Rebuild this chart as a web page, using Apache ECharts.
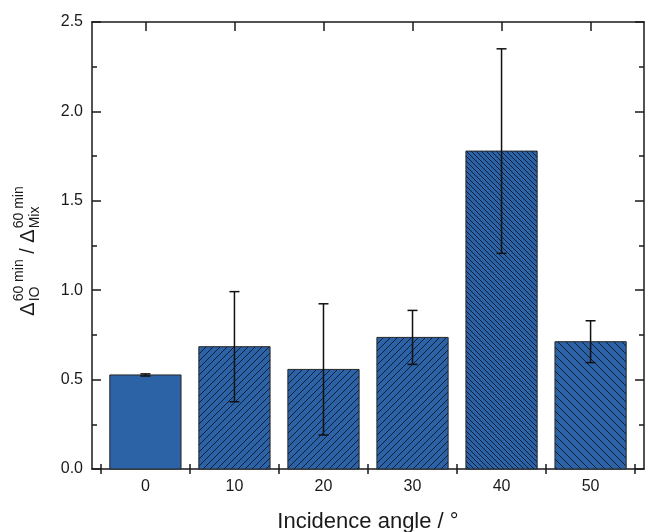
<!DOCTYPE html>
<html>
<head>
<meta charset="utf-8">
<script src="https://cdn.jsdelivr.net/npm/echarts@6/dist/echarts.min.js"></script>
<style>
html,body{margin:0;padding:0;background:#fff;}
#chart{width:646px;height:532px;}
</style>
</head>
<body>
<div id="chart"></div>
<script>
// ---- data ----
const angles = [0, 10, 20, 30, 40, 50];
const ratioValues = [0.526, 0.684, 0.557, 0.736, 1.778, 0.712];
const ratioErrors = [0.006, 0.308, 0.367, 0.151, 0.572, 0.117];
const xTickLabels = ['0', '10', '20', '30', '40', '50'];
const xMinorTicks = [-5, 5, 15, 25, 35, 45, 55];
const yTickLabels = ['0.0', '0.5', '1.0', '1.5', '2.0', '2.5'];
const xTitle = 'Incidence angle / \u00B0';

// ---- styles ----
const FONT = "'Liberation Sans', Arial, Helvetica, sans-serif";
const INK = '#1a1a1a';
const BAR_BLUE = '#2c62a6';
const HATCH_INK = '#0c1d38';
const BAR_HALF_WIDTH = 4;   // in axis units
const CAP_PX = 5;
// hatch per bar: [direction, period px]
const hatchStyles = [null, ['fwd', 7], ['fwd', 7], ['fwd', 7], ['back', 5], ['back', 8]];

function makeHatch(dir, s) {
  const c = document.createElement('canvas');
  c.width = s; c.height = s;
  const g = c.getContext('2d');
  g.fillStyle = BAR_BLUE;
  g.fillRect(0, 0, s, s);
  g.strokeStyle = HATCH_INK;
  g.lineWidth = 1;
  g.beginPath();
  if (dir === 'fwd') {
    for (let k = -1; k <= 1; k++) {
      g.moveTo(k * s - 1, s + 1); g.lineTo(k * s + s + 1, -1);
    }
  } else {
    for (let k = -1; k <= 1; k++) {
      g.moveTo(k * s - 1, -1); g.lineTo(k * s + s + 1, s + 1);
    }
  }
  g.stroke();
  return { image: c, repeat: 'repeat' };
}
const barFills = hatchStyles.map(h => h ? makeHatch(h[0], h[1]) : BAR_BLUE);

const barData = angles.map((a, i) => [a, ratioValues[i]]);
const errData = angles.map((a, i) => [a, ratioValues[i] - ratioErrors[i], ratioValues[i] + ratioErrors[i]]);

// ---- y-axis title layout (rotated pieces) ----
const meas = document.createElement('canvas').getContext('2d');
function tw(t, size) { meas.font = size + 'px ' + FONT; return meas.measureText(t).width; }
const BIG = 20, SMALL = 14;
const pieces = [];
let cx = 0;
function addMain(t) { pieces.push({ t, x: cx, y: 0, size: BIG }); cx += tw(t, BIG); }
function addSupSub(sup, sub) {
  pieces.push({ t: sup, x: cx + 1, y: -9, size: SMALL });
  pieces.push({ t: sub, x: cx + 1, y: 7, size: SMALL });
  cx += 1 + Math.max(tw(sup, SMALL), tw(sub, SMALL));
}
addMain('\u0394'); addSupSub('60 min', 'IO'); addMain(' / '); addMain('\u0394'); addSupSub('60 min', 'Mix');
const titleLen = cx;
const titleCenterY = 251, titleX = 28;

const chart = echarts.init(document.getElementById('chart'), null, { renderer: 'canvas' });

const commonLine = { show: true, onZero: false, lineStyle: { color: INK, width: 1.5 } };

const option = {
  animation: false,
  backgroundColor: '#fff',
  grid: { left: 92, right: 2, top: 22, bottom: 63, containLabel: false, outerBoundsMode: 'none' },
  xAxis: [
    {
      type: 'value', min: -6, max: 56, position: 'bottom',
      axisLine: commonLine,
      axisTick: { show: true, inside: true, length: 9, customValues: angles, lineStyle: { color: INK, width: 1.5 } },
      axisLabel: { show: true, customValues: angles, formatter: (v) => xTickLabels[angles.indexOf(v)], fontSize: 16, fontFamily: FONT, color: INK, margin: 10 },
      splitLine: { show: false },
      name: xTitle, nameLocation: 'middle', nameGap: 42,
      nameTextStyle: { fontSize: 22, fontFamily: FONT, color: INK }
    },
    {
      type: 'value', min: -6, max: 56, position: 'bottom',
      axisLine: { show: false },
      axisTick: { show: true, inside: true, length: 5, customValues: xMinorTicks, lineStyle: { color: INK, width: 1.5 } },
      axisLabel: { show: false }, splitLine: { show: false }
    },
    {
      type: 'value', min: -6, max: 56, position: 'top',
      axisLine: commonLine,
      axisTick: { show: true, inside: true, length: 9, customValues: angles, lineStyle: { color: INK, width: 1.5 } },
      axisLabel: { show: false }, splitLine: { show: false }
    },
    {
      type: 'value', min: -6, max: 56, position: 'top',
      axisLine: { show: false },
      axisTick: { show: true, inside: true, length: 5, customValues: xMinorTicks, lineStyle: { color: INK, width: 1.5 } },
      axisLabel: { show: false }, splitLine: { show: false }
    }
  ],
  yAxis: [
    {
      type: 'value', min: 0, max: 2.5, interval: 0.5, position: 'left',
      axisLine: commonLine,
      axisTick: { show: true, inside: true, length: 9, lineStyle: { color: INK, width: 1.5 } },
      minorTick: { show: true, splitNumber: 2, length: 5, lineStyle: { color: INK, width: 1.5 } },
      axisLabel: { formatter: (v) => yTickLabels[Math.round(v / 0.5)], fontSize: 16, fontFamily: FONT, color: INK, margin: 9 },
      splitLine: { show: false }, minorSplitLine: { show: false }
    },
    {
      type: 'value', min: 0, max: 2.5, interval: 0.5, position: 'right',
      axisLine: commonLine,
      axisTick: { show: true, inside: true, length: 9, lineStyle: { color: INK, width: 1.5 } },
      minorTick: { show: true, splitNumber: 2, length: 5, lineStyle: { color: INK, width: 1.5 } },
      axisLabel: { show: false },
      splitLine: { show: false }, minorSplitLine: { show: false }
    }
  ],
  series: [
    {
      type: 'custom', xAxisIndex: 0, yAxisIndex: 0,
      data: barData,
      encode: { x: 0, y: 1 },
      renderItem: function (params, api) {
        const x = api.value(0), v = api.value(1);
        const p0 = api.coord([x - BAR_HALF_WIDTH, v]);
        const p1 = api.coord([x + BAR_HALF_WIDTH, 0]);
        return {
          type: 'rect',
          shape: { x: p0[0], y: p0[1], width: p1[0] - p0[0], height: p1[1] - p0[1] },
          style: { fill: barFills[params.dataIndex], stroke: '#262626', lineWidth: 1 }
        };
      },
      z: 2
    },
    {
      type: 'custom', xAxisIndex: 0, yAxisIndex: 0,
      data: errData,
      encode: { x: 0, y: [1, 2] },
      renderItem: function (params, api) {
        const x = api.value(0);
        const lo = api.coord([x, api.value(1)]);
        const hi = api.coord([x, api.value(2)]);
        const st = { stroke: '#111', lineWidth: 1.5 };
        return {
          type: 'group',
          children: [
            { type: 'line', shape: { x1: lo[0], y1: lo[1], x2: hi[0], y2: hi[1] }, style: st },
            { type: 'line', shape: { x1: lo[0] - CAP_PX, y1: lo[1], x2: lo[0] + CAP_PX, y2: lo[1] }, style: st },
            { type: 'line', shape: { x1: hi[0] - CAP_PX, y1: hi[1], x2: hi[0] + CAP_PX, y2: hi[1] }, style: st }
          ]
        };
      },
      z: 3
    }
  ],
  graphic: [
    {
      type: 'group',
      x: titleX, y: titleCenterY + titleLen / 2,
      rotation: Math.PI / 2,
      children: pieces.map(p => ({
        type: 'text', x: p.x, y: p.y,
        style: { text: p.t, fontSize: p.size, fontFamily: FONT, fill: INK, align: 'left', verticalAlign: 'middle' }
      }))
    }
  ]
};
chart.setOption(option);
</script>
</body>
</html>
